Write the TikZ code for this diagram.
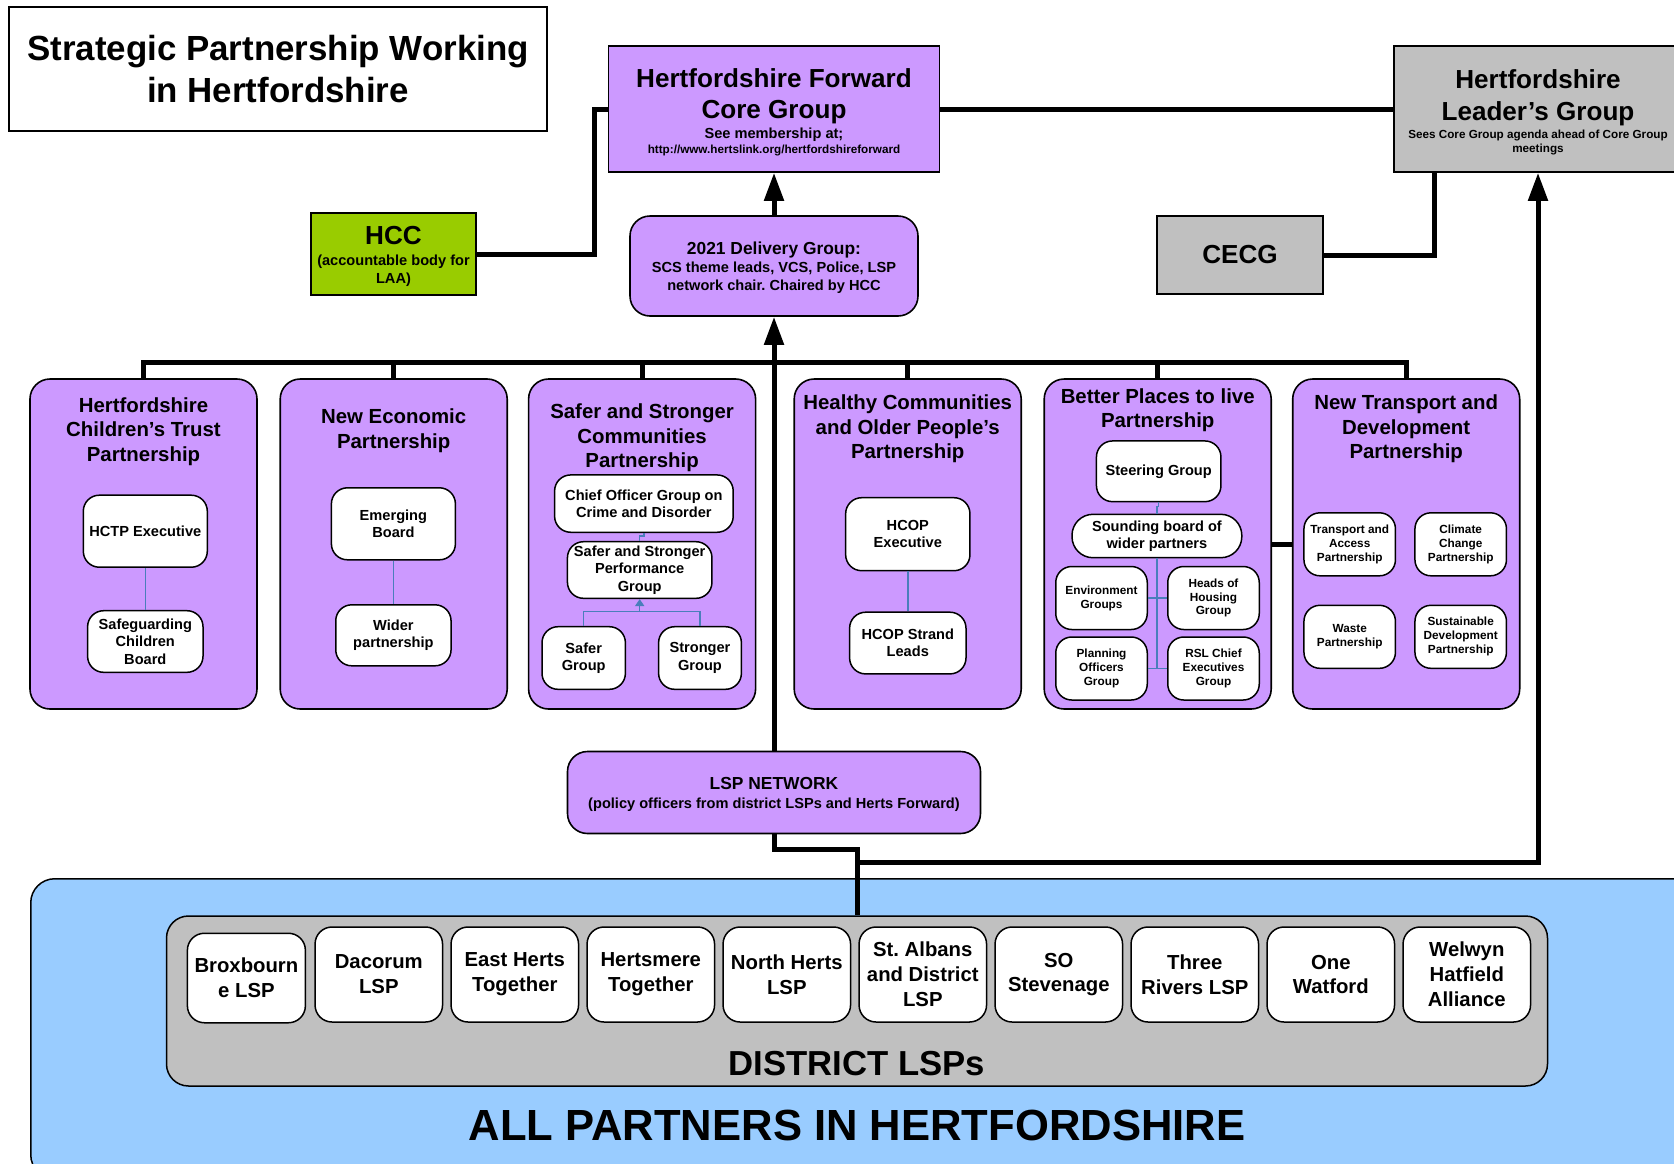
\documentclass[tikz,border=0pt]{standalone}
\usepackage{fontspec}
\setmainfont{Liberation Sans}
\usetikzlibrary{arrows.meta,positioning}
\frenchspacing

\definecolor{lilac}{HTML}{CC99FF}
\definecolor{leafgreen}{HTML}{99CC00}
\definecolor{silver}{HTML}{C0C0C0}
\definecolor{skyblue}{HTML}{99CCFF}
\definecolor{linkblue}{HTML}{4A7EBB}

% bold text at a given size and line pitch (with the font's own word spaces)
\newcommand\fz[2]{\bfseries\fontsize{#1}{#2}\selectfont\spaceskip=0pt\xspaceskip=0pt}

\begin{document}
\begin{tikzpicture}[x=1pt,y=-1pt,
  every node/.style={inner sep=0pt,align=center},
  headbox/.style={rectangle,draw,line width=1.6pt,fill=lilac},
  boxtext/.style={align=flush center},
  groupbox/.style={rectangle,draw,line width=1.6pt,fill=lilac,rounded corners=20pt,minimum width=227pt,minimum height=330pt},
  parttitle/.style={font=\fz{20.4}{24.5}},
  subbox/.style={rectangle,draw,line width=1.5pt,fill=white,rounded corners=16pt,font=\fz{14.6}{17.3}},
  smallbox/.style={subbox,minimum width=91.5pt,minimum height=63pt,font=\fz{11.8}{13.9}},
  lspbox/.style={rectangle,draw,line width=1.5pt,fill=white,rounded corners=17pt,minimum width=127.5pt,minimum height=95pt,font=\fz{20.3}{24.8}},
  linkline/.style={line width=5pt},
  uparrow/.style={linkline,-{Triangle[length=28pt,width=19pt]}},
  bluelink/.style={draw=linkblue,line width=1.5pt}]
\useasboundingbox (0,0) rectangle (1674,1163);
\clip (0,0) rectangle (1674,1163);

% all partners and the district LSPs
\node[rectangle,draw,line width=1.5pt,fill=skyblue,rounded corners=24pt,minimum width=1680pt,minimum height=300pt,anchor=north west] (allpart) at (30,878) {};
\node[font=\fz{43.6}{50}] (alltext) at (857,1125) {ALL PARTNERS IN HERTFORDSHIRE};
\node[rectangle,draw,line width=1.5pt,fill=silver,rounded corners=22pt,minimum width=1381pt,minimum height=170pt] (district) at (857,1001) {};
\node[font=\fz{34.7}{40}] (districttext) at (857,1064) {DISTRICT LSPs};

\node[lspbox,minimum width=118pt,minimum height=89.5pt] (brox) at (246.4,978) {Broxbourn\\e LSP};
\node[lspbox] (dacorum) at (378.8,974.5) {Dacorum\\LSP};
\node[lspbox,right=7pt of dacorum] (easth) {East Herts\\Together};
\node[lspbox,right=7pt of easth] (hertsmere) {Hertsmere\\Together};
\node[lspbox,right=7pt of hertsmere] (northh) {North Herts\\LSP};
\node[lspbox,right=7pt of northh] (stalbans) {St. Albans\\and District\\LSP};
\node[lspbox,right=7pt of stalbans] (stevenage) {SO\\Stevenage};
\node[lspbox,right=7pt of stevenage] (threer) {Three\\Rivers LSP};
\node[lspbox,right=7pt of threer] (watford) {One\\Watford};
\node[lspbox,right=7pt of watford] (welwyn) {Welwyn\\Hatfield\\Alliance};

% top row
\node[rectangle,draw,line width=1.5pt,minimum width=538pt,minimum height=124pt,font=\fz{34.9}{41.6}] (title) at (278,69) {Strategic Partnership Working\\in Hertfordshire};

\node[headbox,minimum width=331pt,minimum height=126pt] (core) at (774,109) {};
\node[boxtext,text width=331pt] (coretext) at (774,112.2) {{\fz{26.1}{31}Hertfordshire Forward\\Core Group\par}{\fz{14.6}{20.5}See membership at;\par}{\fz{11.7}{15}http://www.hertslink.org/hertfordshireforward\par}};

\node[headbox,fill=silver,minimum width=288pt,minimum height=126pt] (leader) at (1538,109) {};
\node[boxtext,text width=288pt] (leadertext) at (1538,112.2) {{\fz{26.1}{32}Hertfordshire\\Leader’s Group\par}{\fz{11.7}{18.3}Sees Core Group agenda ahead of Core Group\par}{\fz{11.7}{13.9}meetings\par}};

\node[headbox,fill=leafgreen,minimum width=165pt,minimum height=82pt] (hcc) at (393.5,254) {};
\node[boxtext,text width=165pt] (hcctext) at (393.5,256.1) {{\fz{26.1}{30}HCC\par}{\fz{14.6}{21.4}(accountable body for\par}{\fz{14.6}{18}LAA)\par}};

\node[headbox,fill=silver,minimum width=166pt,minimum height=78pt,font=\fz{26.1}{31}] (cecg) at (1240,255) {CECG};

\node[headbox,rounded corners=20pt,minimum width=288pt,minimum height=100pt] (delivery) at (774,266) {};
\node[boxtext,text width=288pt] (deliverytext) at (774,268.1) {{\fz{17.4}{20}2021 Delivery Group:\par}{\fz{14.6}{18.1}SCS theme leads, VCS, Police, LSP\\network chair. Chaired by HCC\par}};

\node[headbox,rounded corners=20pt,minimum width=413pt,minimum height=82pt] (lsp) at (774,792.5) {};
\node[boxtext,text width=413pt] (lsptext) at (774,794.1) {{\fz{17.4}{20}LSP NETWORK\par}{\fz{14.6}{19}(policy officers from district LSPs and Herts Forward)\par}};

% the six partnerships
\node[groupbox] (pcyp) at (143.5,544) {};
\node[groupbox] (pecon) at (393.7,544) {};
\node[groupbox] (psafe) at (642.1,544) {};
\node[groupbox] (phealth) at (907.7,544) {};
\node[groupbox] (pplaces) at (1157.7,544) {};
\node[groupbox] (ptransport) at (1406.2,544) {};

\node[parttitle,below=19pt of pcyp.north] (cyptitle) {Hertfordshire\\Children’s Trust\\Partnership};
\node[parttitle,below=30.7pt of pecon.north] (econtitle) {New Economic\\Partnership};
\node[parttitle,below=25.4pt of psafe.north] (safetitle) {Safer and Stronger\\Communities\\Partnership};
\node[parttitle,below=16.7pt of phealth.north] (healthtitle) {Healthy Communities\\and Older People’s\\Partnership};
\node[parttitle,below=10pt of pplaces.north] (placestitle) {Better Places to live\\Partnership};
\node[parttitle,below=16.7pt of ptransport.north] (transporttitle) {New Transport and\\Development\\Partnership};

\node[subbox,minimum width=124pt,minimum height=72pt] (hctp) at (145.3,531.2) {HCTP Executive};
\node[subbox,minimum width=115.4pt,minimum height=61.6pt,below=42pt of hctp] (scb) {Safeguarding\\Children\\Board};

\node[subbox,minimum width=124pt,minimum height=72pt] (emerging) at (393.4,523.8) {Emerging\\Board};
\node[subbox,minimum width=115.3pt,minimum height=61pt,below=43.5pt of emerging] (wider) {Wider\\partnership};

\node[subbox,minimum width=178.6pt,minimum height=57.3pt] (chief) at (643.9,503.6) {Chief Officer Group on\\Crime and Disorder};
\node[subbox,minimum width=144.5pt,minimum height=56.6pt] (ssperf) at (639.7,570) {Safer and Stronger\\Performance\\Group};
\node[subbox,minimum width=83.4pt,minimum height=62.6pt] (safergp) at (583.7,658) {Safer\\Group};
\node[subbox,minimum width=82.8pt,minimum height=62.6pt] (strongergp) at (700,658) {Stronger\\Group};

\node[subbox,minimum width=124.3pt,minimum height=73pt] (hcopexec) at (907.8,534.2) {HCOP\\Executive};
\node[subbox,minimum width=116.4pt,minimum height=61.7pt,below=40pt of hcopexec] (hcopstrand) {HCOP Strand\\Leads};

\node[subbox,minimum width=124.5pt,minimum height=60.7pt] (steering) at (1158.7,471.3) {Steering Group};
\node[subbox,rounded corners=21pt,minimum width=169.8pt,minimum height=43.4pt] (sounding) at (1156.9,536) {Sounding board of\\wider partners};
\node[smallbox] (env) at (1101.5,598) {Environment\\Groups};
\node[smallbox,right=19pt of env] (housing) {Heads of\\Housing\\Group};
\node[smallbox,below=6pt of env] (planning) {Planning\\Officers\\Group};
\node[smallbox,right=19pt of planning] (rsl) {RSL Chief\\Executives\\Group};

\node[smallbox] (tap) at (1349.7,544.3) {Transport and\\Access\\Partnership};
\node[smallbox,right=18pt of tap] (climate) {Climate\\Change\\Partnership};
\node[smallbox,below=28pt of tap] (waste) {Waste\\Partnership};
\node[smallbox,right=18pt of waste] (sustain) {Sustainable\\Development\\Partnership};

% heavy connectors
\draw[linkline] (pcyp.north) -- ++(0,-16) -| (ptransport.north);
\draw[linkline] (pecon.north) -- ++(0,-16);
\draw[linkline] (psafe.north) -- ++(0,-16);
\draw[linkline] (phealth.north) -- ++(0,-16);
\draw[linkline] (pplaces.north) -- ++(0,-16);
\draw[linkline] (pplaces.east) -- (ptransport.west);
\draw[uparrow] (delivery.north) -- (core.south);
\draw[uparrow] (lsp.north) -- (delivery.south);
\draw[linkline] (core.east) -- (leader.west);
\draw[linkline] (hcc.east) -- ++(118,0) |- (core.west);
\draw[linkline] (cecg.east) -| ([xshift=41pt]leader.south west);
\draw[linkline] (lsp.south) -- ++(0,15.5) -| (district.north);
\draw[uparrow] (district.north) ++(0,-53) -| (leader.south);

% thin links inside the partnerships
\draw[bluelink] (hctp.south) -- (scb.north);
\draw[bluelink] (emerging.south) -- (wider.north);
\draw[bluelink] (chief.south) -- ++(0,3) -| (ssperf.north);
\draw[bluelink] (safergp.north) -- ++(0,-14.5) coordinate (ssbar) -| (strongergp.north);
\draw[bluelink,-{Triangle[length=7pt,width=9pt]}] (ssbar -| ssperf.south) -- (ssperf.south);
\draw[bluelink] (hcopexec.south) -- (hcopstrand.north);
\draw[bluelink] (steering.south) -- ++(0,4) -| (sounding.north);
\draw[bluelink] (sounding.south) -- (sounding.south |- planning.east);
\draw[bluelink] (env.east) -- (housing.west);
\draw[bluelink] (planning.east) -- (rsl.west);
\end{tikzpicture}
\end{document}
